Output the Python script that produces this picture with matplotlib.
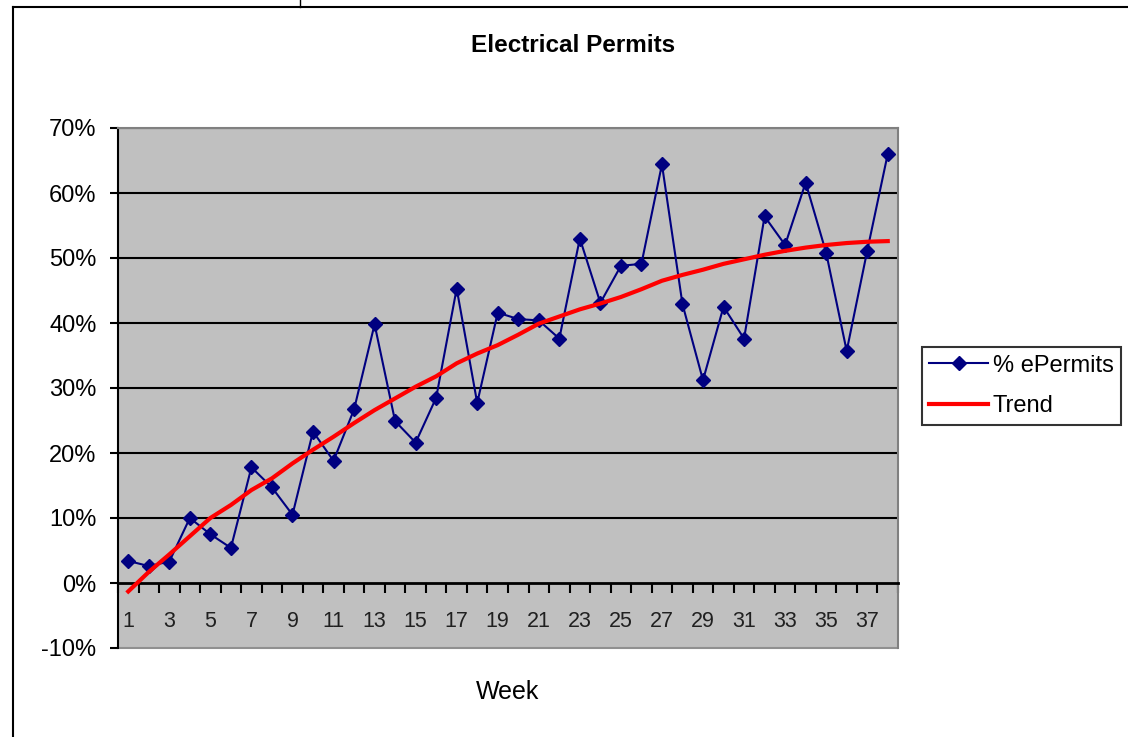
import matplotlib
matplotlib.use("Agg")
import matplotlib.pyplot as plt
from matplotlib.patches import Rectangle
from matplotlib.lines import Line2D

weeks = list(range(1, 39))
pct_epermits = [3.4, 2.6, 3.3, 10.0, 7.5, 5.4, 17.8, 14.7, 10.5, 23.3,
                18.8, 26.7, 39.8, 24.9, 21.6, 28.5, 45.3, 27.7, 41.6, 40.6,
                40.4, 37.6, 53.0, 43.1, 48.8, 49.1, 64.4, 42.9, 31.2, 42.5,
                37.6, 56.4, 52.0, 61.6, 50.8, 35.7, 51.1, 66.0]
trend = [-1.3, 1.7, 4.4, 7.2, 10.0, 12.0, 14.3, 16.1, 18.4, 20.5,
         22.5, 24.6, 26.6, 28.4, 30.2, 31.8, 33.8, 35.3, 36.6, 38.2,
         39.9, 41.0, 42.1, 43.0, 44.0, 45.2, 46.5, 47.4, 48.2, 49.1,
         49.8, 50.5, 51.1, 51.6, 52.0, 52.3, 52.5, 52.6]
y_ticks = [-10, 0, 10, 20, 30, 40, 50, 60, 70]
x_labels = [str(w) for w in weeks[::2]]

plt.rcParams['font.family'] = ['Liberation Sans', 'DejaVu Sans']

W, H = 1128, 737
fig = plt.figure(figsize=(W / 100, H / 100), dpi=100)
fig.patch.set_facecolor('white')

# chart-area border (left and top)
fig.add_artist(Line2D([13 / W, 13 / W], [0, 1 - 7 / H], transform=fig.transFigure,
                      color='black', lw=1.5))
fig.add_artist(Line2D([13 / W, 1], [1 - 7 / H, 1 - 7 / H], transform=fig.transFigure,
                      color='black', lw=1.5))
fig.add_artist(Line2D([300 / W, 300 / W], [1 - 7 / H, 1], transform=fig.transFigure,
                      color='black', lw=1))

left, right, top, bottom = 118, 898, 128, 648
ax = fig.add_axes([left / W, 1 - bottom / H, (right - left) / W, (bottom - top) / H])
ax.set_facecolor('#C0C0C0')

ax.set_xlim(0.5, 38.5)
ax.set_ylim(-10, 70)

for yv in y_ticks[2:]:
    ax.axhline(yv, color='black', lw=1.5, zorder=1)

ax.plot(weeks, pct_epermits, color='#000080', lw=1.5, marker='D', markersize=7,
        markerfacecolor='#000080', markeredgecolor='#000080', zorder=3,
        label='% ePermits')
ax.plot(weeks, trend, color='#FF0000', lw=3, zorder=4, label='Trend')

# spines
ax.spines['left'].set_color('black')
ax.spines['left'].set_linewidth(1.5)
ax.spines['bottom'].set_position(('data', 0))
ax.spines['bottom'].set_color('black')
ax.spines['bottom'].set_linewidth(2)
ax.spines['top'].set_color('#808080')
ax.spines['right'].set_color('#808080')
ax.spines['top'].set_linewidth(1.5)
ax.spines['right'].set_linewidth(1.5)
# bottom border at -10%
ax.add_patch(Rectangle((0.5, -10), 38, 0.0001, fill=False, edgecolor='#909090', lw=1.5,
                       zorder=2, clip_on=False))

ax.set_yticks(y_ticks)
ax.set_yticklabels([f'{v}%' for v in y_ticks], fontsize=17)
ax.tick_params(axis='y', direction='out', length=6, width=1.5, pad=9.5)

ax.set_xticks([w + 0.5 for w in [0] + weeks], minor=False)
ax.set_xticklabels([])
ax.set_xticks(weeks[::2], minor=True)
ax.set_xticklabels(x_labels, minor=True, fontsize=15.5, color='#202020')
ax.tick_params(axis='x', which='major', direction='out', length=7, width=1.5)
ax.tick_params(axis='x', which='minor', length=0, pad=20)

fig.text(573 / W, 1 - 45 / H, 'Electrical Permits', ha='center', va='center',
         fontsize=17.5, fontweight='bold')
fig.text(508 / W, 1 - 692 / H, 'Week', ha='center', va='center', fontsize=18)

leg = ax.legend(loc='center left', bbox_to_anchor=(922 / W, 1 - 386 / H),
                bbox_transform=fig.transFigure, fontsize=17, frameon=True,
                fancybox=False, handlelength=2.5, handletextpad=0.2,
                borderpad=0.3, labelspacing=0.8, borderaxespad=0)
leg.get_frame().set_edgecolor('black')
leg.get_frame().set_linewidth(1.5)

fig.savefig('out.png', dpi=100, facecolor='white')
